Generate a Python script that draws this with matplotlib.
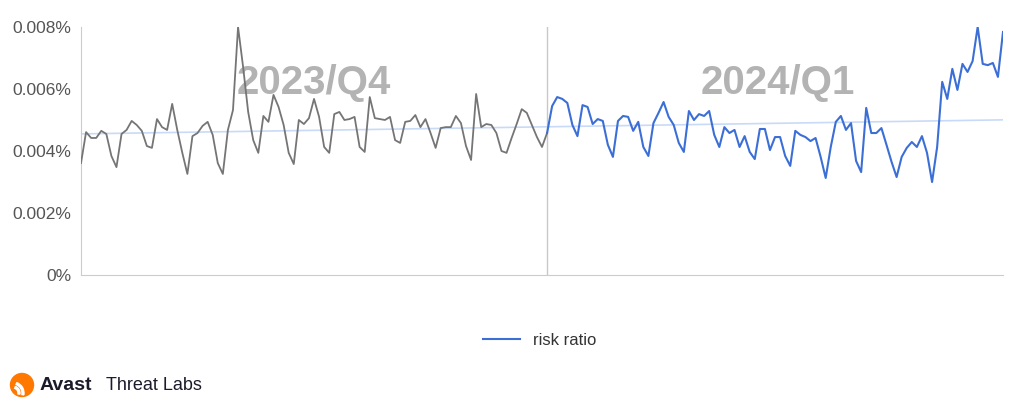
import numpy as np
import matplotlib
matplotlib.use("Agg")
import matplotlib.pyplot as plt
from matplotlib.patches import Circle, Wedge
from matplotlib.lines import Line2D

plt.rcParams['font.family'] = ['Liberation Sans', 'DejaVu Sans']

# daily risk ratio (%), Oct 1 2023 .. Mar 31 2024
q4_2023 = [0.00361, 0.00461, 0.00442, 0.00442, 0.00465, 0.00455, 0.00384, 0.00348,
           0.00455, 0.00468, 0.00497, 0.00484, 0.00465, 0.00416, 0.00410, 0.00503,
           0.00477, 0.00468, 0.00552, 0.00468, 0.00394, 0.00326, 0.00448, 0.00458,
           0.00481, 0.00494, 0.00452, 0.00361, 0.00326, 0.00468, 0.00532, 0.00800,
           0.00671, 0.00526, 0.00435, 0.00394, 0.00513, 0.00494, 0.00581, 0.00542,
           0.00484, 0.00394, 0.00358, 0.00500, 0.00487, 0.00506, 0.00568, 0.00510,
           0.00413, 0.00394, 0.00519, 0.00526, 0.00500, 0.00503, 0.00510, 0.00413,
           0.00397, 0.00574, 0.00506, 0.00503, 0.00500, 0.00510, 0.00435, 0.00426,
           0.00494, 0.00497, 0.00516, 0.00477, 0.00503, 0.00458, 0.00410, 0.00474,
           0.00477, 0.00477, 0.00513, 0.00490, 0.00416, 0.00371, 0.00584, 0.00477,
           0.00487, 0.00484, 0.00458, 0.00400, 0.00394, 0.00442, 0.00487, 0.00535,
           0.00523, 0.00484, 0.00445, 0.00413]
q1_2024 = [0.00458, 0.00545, 0.00574, 0.00568, 0.00555, 0.00484, 0.00448, 0.00548,
           0.00542, 0.00487, 0.00503, 0.00497, 0.00420, 0.00381, 0.00497, 0.00513,
           0.00510, 0.00465, 0.00494, 0.00413, 0.00384, 0.00490, 0.00523, 0.00558,
           0.00510, 0.00484, 0.00426, 0.00397, 0.00529, 0.00500, 0.00519, 0.00513,
           0.00529, 0.00452, 0.00413, 0.00477, 0.00458, 0.00468, 0.00413, 0.00448,
           0.00397, 0.00374, 0.00471, 0.00471, 0.00403, 0.00445, 0.00445, 0.00384,
           0.00352, 0.00465, 0.00452, 0.00445, 0.00432, 0.00442, 0.00381, 0.00313,
           0.00413, 0.00494, 0.00513, 0.00468, 0.00490, 0.00368, 0.00332, 0.00539,
           0.00458, 0.00458, 0.00474, 0.00420, 0.00365, 0.00316, 0.00381, 0.00410,
           0.00429, 0.00413, 0.00448, 0.00394, 0.00300, 0.00413, 0.00623, 0.00568,
           0.00665, 0.00597, 0.00681, 0.00655, 0.00690, 0.00800, 0.00681, 0.00677,
           0.00684, 0.00639, 0.00784]
yticks = [0, 0.002, 0.004, 0.006, 0.008]
ytick_labels = ["0%", "0.002%", "0.004%", "0.006%", "0.008%"]
quarter_labels = ["2023/Q4", "2024/Q1"]

allv = np.array(q4_2023 + q1_2024)
x = np.arange(len(allv))
n4 = len(q4_2023)

fig = plt.figure(figsize=(10.24, 4.04), dpi=100)
ax = fig.add_axes([81/1024, 1-275/404, 922/1024, 248/404])

# trend line
k, b = np.polyfit(x, allv, 1)
ax.plot(x, k*x + b, color='#c9daf8', lw=1.2, zorder=2)

ax.plot(x[:n4+1], allv[:n4+1], color='#757575', lw=1.3, zorder=4)
ax.plot(x[n4:], allv[n4:], color='#3c6fd6', lw=1.5, zorder=4)

ax.axvline(n4, color='#c8c8c8', lw=1, zorder=1)

ax.text(n4/2, 0.0062, quarter_labels[0], ha='center', va='center',
        fontsize=29, fontweight='bold', color='#b3b3b3', zorder=3)
ax.text(n4 + len(q1_2024)/2, 0.0062, quarter_labels[1], ha='center', va='center',
        fontsize=29, fontweight='bold', color='#b3b3b3', zorder=3)

ax.set_xlim(0, len(allv)-1)
ax.set_ylim(0, 0.008)
ax.set_yticks(yticks)
ax.set_yticklabels(ytick_labels, fontsize=12.5, color='#555555')
ax.set_xticks([])
ax.tick_params(axis='y', length=0, pad=7)
for s in ['top', 'right']:
    ax.spines[s].set_visible(False)
ax.spines['left'].set_color('#cccccc')
ax.spines['bottom'].set_color('#cccccc')

# legend
h = Line2D([], [], color='#3c6fd6', lw=1.5)
fig.legend([h], ['risk ratio'], loc='center', bbox_to_anchor=(0.527, 0.158),
           frameon=False, fontsize=12, handlelength=2.2,
           labelcolor='#333333')

# logo
lax = fig.add_axes([0, 0, 1, 1], facecolor='none')
lax.set_xlim(0, 1024)
lax.set_ylim(404, 0)
lax.axis('off')
lax.add_patch(Circle((22, 385), 11.5, color='#ff7800'))
for r, w in [(7, 2.0), (11, 2.0)]:
    lax.add_patch(Wedge((13, 393), r, 290, 10, width=w, color='white'))
lax.text(40, 386, "Avast", fontsize=14, fontweight='bold', color='#1b1b2b',
         va='center', ha='left')
lax.text(106, 386, "Threat Labs", fontsize=13, color='#1b1b2b',
         va='center', ha='left')

fig.savefig("out.png", dpi=100)
